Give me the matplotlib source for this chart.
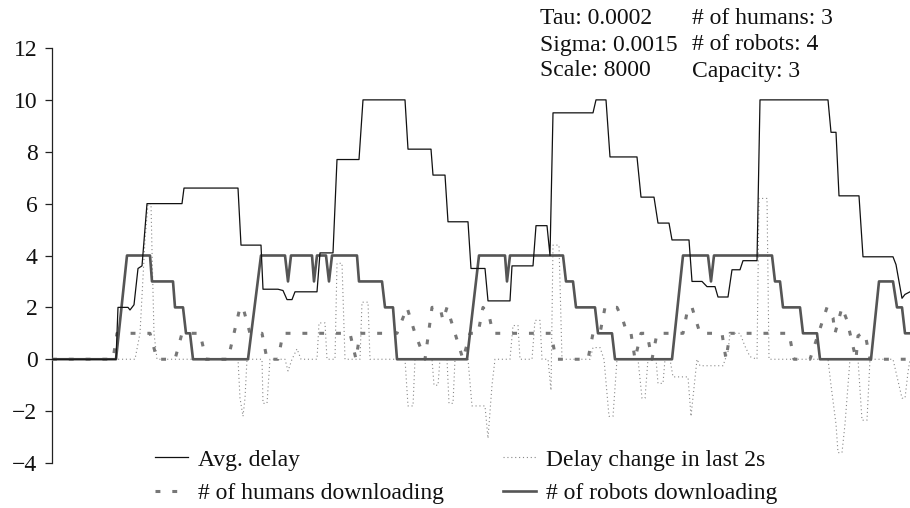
import matplotlib
matplotlib.use("Agg")
import matplotlib.pyplot as plt

plt.rcParams['font.family'] = ['Liberation Serif', 'DejaVu Serif']

# ---- time series as (time in 1/10 s, value) samples ----
avg_delay_pts = [
    (0, 0), (64, 0), (66, 2.0), (76, 2.0), (78, 1.9), (82, 2.1), (86, 3.5), (90, 3.6),
    (95, 6.0), (130, 6.0), (132, 6.6), (186, 6.6), (189, 4.4), (209, 4.4), (211, 2.7),
    (226, 2.7), (231, 2.65), (235, 2.3), (240, 2.3), (243, 2.6), (265, 2.6), (268, 4.1),
    (281, 4.1), (285, 7.7), (307, 7.7), (311, 10.0), (353, 10.0), (356, 8.1), (379, 8.1),
    (381, 7.1), (393, 7.1), (396, 5.3), (416, 5.3), (419, 3.5), (433, 3.5), (436, 2.25),
    (458, 2.25), (460, 3.6), (481, 3.6), (484, 5.15), (495, 5.15), (498, 4.0), (501, 9.5),
    (541, 9.5), (544, 10.0), (554, 10.0), (558, 7.8), (585, 7.8), (589, 6.25), (602, 6.25),
    (606, 5.25), (617, 5.25), (620, 4.6), (637, 4.6), (640, 3.0), (650, 3.0), (655, 2.8),
    (663, 2.8), (666, 2.4), (676, 2.4), (680, 3.45), (688, 3.45), (691, 3.8), (705, 3.8),
    (708, 10.0), (776, 10.0), (779, 8.75), (784, 8.75), (787, 6.3), (807, 6.3), (811, 3.95),
    (841, 3.95), (844, 3.65), (850, 2.35), (853, 2.5), (858, 2.6),
]

delay_change_pts = [
    (0, 0), (83, 0), (88, 1.0), (93, 4.6), (96, 6.0), (99, 6.0), (100, 4.2), (102, 1.0),
    (105, 0), (186, 0), (188, -1.5), (191, -2.2), (193, -1.5), (195, 0), (210, 0),
    (211, -1.7), (215, -1.7), (218, 0), (233, 0), (236, -0.45), (240, 0), (245, 0.4),
    (249, 0), (265, 0), (267, 1.4), (273, 1.4), (275, 0), (283, 0), (285, 3.7), (290, 3.7),
    (293, 0), (308, 0), (310, 2.2), (316, 2.2), (318, 0), (353, 0), (356, -1.8), (361, -1.8),
    (363, 0), (380, 0), (382, -1.0), (386, -1.0), (388, 0), (395, 0), (397, -1.7),
    (401, -1.7), (403, 0), (416, 0), (420, -1.8), (433, -1.8), (436, -3.05), (440, -1.0),
    (443, 0), (458, 0), (461, 1.3), (466, 1.3), (468, 0), (480, 0), (483, 1.5), (488, 1.5),
    (490, 0), (496, 0), (499, -1.2), (501, 4.4), (507, 4.4), (510, 0), (538, 0), (541, 0.45),
    (548, 0.45), (552, 0), (557, -2.2), (561, -2.2), (565, 0), (586, 0), (590, -1.5),
    (593, -1.5), (596, 0), (604, 0), (606, -0.93), (611, -0.93), (613, 0), (618, 0),
    (621, -0.68), (636, -0.68), (639, -2.2), (645, 0), (648, -0.25), (671, -0.25),
    (676, 0.3), (678, 1.0), (688, 1.0), (693, 0.5), (698, 0.1), (705, 0), (707, 6.2),
    (715, 6.2), (717, 0), (776, 0), (779, -1.0), (784, -2.5), (786, -3.6), (790, -3.6),
    (793, -2.5), (796, -1.0), (798, 0), (806, 0), (810, -2.35), (815, -2.35), (818, 0),
    (841, 0), (844, -0.5), (850, -1.5), (853, -1.5), (856, -0.5), (858, 0),
]

humans_pts = [
    (0, 0), (61, 0), (65, 1), (98, 1), (105, 0), (123, 0), (130, 1), (148, 1), (154, 0),
    (176, 0), (188, 2), (191, 2), (198, 1), (210, 1), (215, 0), (226, 0), (231, 1),
    (298, 1), (304, 0), (308, 1), (345, 1), (355, 2), (363, 1), (373, 0), (380, 2),
    (388, 2), (391, 1.5), (395, 2), (403, 1), (411, 0), (418, 1), (426, 1), (431, 2),
    (437, 1.7), (441, 1), (499, 1), (504, 0), (536, 0), (541, 1), (548, 1), (553, 2),
    (565, 2), (571, 1.5), (575, 1), (579, 1), (583, 0), (589, 1), (595, 1), (600, 0),
    (605, 1), (631, 1), (636, 2), (640, 2), (648, 1), (670, 1), (674, 0), (678, 1),
    (737, 1), (742, 0), (758, 0), (775, 2), (781, 1.6), (783, 1), (790, 2), (795, 1.5),
    (804, 0), (806, 0.9), (810, 1), (813, 1), (818, 0), (858, 0),
]

robots_pts = [
    (0, 0), (64, 0), (75, 4), (98, 4), (100, 3), (121, 3), (123, 2), (131, 2), (134, 1),
    (138, 1), (141, 0), (196, 0), (209, 4), (233, 4), (236, 3), (239, 4), (260, 4),
    (262, 3), (265, 4), (274, 4), (277, 3), (280, 4), (305, 4), (307, 3), (330, 3),
    (333, 2), (341, 2), (345, 0), (415, 0), (427, 4), (453, 4), (455, 3), (458, 4),
    (511, 4), (514, 3), (521, 3), (524, 2), (543, 2), (546, 1), (560, 1), (563, 0),
    (620, 0), (631, 4), (656, 4), (659, 3), (662, 4), (720, 4), (723, 3), (728, 3),
    (731, 2), (748, 2), (751, 1), (765, 1), (768, 0), (819, 0), (827, 3), (841, 3),
    (845, 2), (850, 2), (853, 1), (858, 1),
]

yticks = [-4, -2, 0, 2, 4, 6, 8, 10, 12]
params_left = ["Tau: 0.0002", "Sigma: 0.0015", "Scale: 8000"]
params_right = ["# of humans: 3", "# of robots: 4", "Capacity: 3"]

FS = 17


def split(pts):
    return [p[0] for p in pts], [p[1] for p in pts]


fig = plt.figure(figsize=(9.10, 5.08), dpi=100)
ax = fig.add_axes([52 / 910, 45 / 508, 858 / 910, 415 / 508])

l_delay, = ax.plot(*split(avg_delay_pts), color='#111111', lw=0.9,
                   label='Avg. delay', zorder=4)
l_change, = ax.plot(*split(delay_change_pts), color='#888888', lw=0.8,
                    linestyle=(0, (1, 2.5)), label='Delay change in last 2s', zorder=2)
l_humans, = ax.plot(*split(humans_pts), color='#777777', lw=2.2,
                    linestyle=(0, (1.6, 3.9)), label='# of humans downloading', zorder=3)
l_robots, = ax.plot(*split(robots_pts), color='#555555', lw=1.9,
                    label='# of robots downloading', zorder=3)

ax.set_xlim(0, 858)
ax.set_ylim(-4, 12)
ax.set_yticks(yticks)
ax.set_yticklabels([str(v).replace('-', '\u2212') for v in yticks])
ax.set_xticks([])
for side in ('top', 'right', 'bottom'):
    ax.spines[side].set_visible(False)
ax.spines['left'].set_color('#222222')
ax.spines['left'].set_linewidth(0.9)
ax.tick_params(axis='y', direction='out', length=5, width=0.9, color='#222222',
               labelsize=FS, pad=5.5, labelcolor='#111111')
ax.patch.set_visible(False)

leg = ax.legend(handles=[l_delay, l_humans, l_change, l_robots], ncol=2, frameon=False,
                loc='upper left', bbox_to_anchor=(155 / 910, 1 - 449 / 508),
                bbox_transform=fig.transFigure, fontsize=FS, handlelength=1.4,
                handletextpad=0.42, columnspacing=2.5, labelspacing=0.5,
                borderpad=0, borderaxespad=0)
for txt in leg.get_texts():
    txt.set_color('#111111')

for i, (a, b) in enumerate(zip(params_left, params_right)):
    y = 1 - (19 + 26 * i) / 508
    fig.text(540 / 910, y, a, fontsize=FS, va='center', ha='left', color='#111111')
    fig.text(692 / 910, y, b, fontsize=FS, va='center', ha='left', color='#111111')

fig.savefig('out.png', dpi=100)
